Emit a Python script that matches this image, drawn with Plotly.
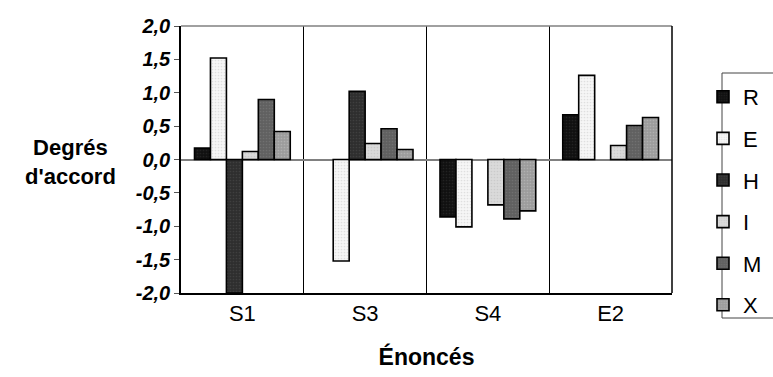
import plotly.graph_objects as go

categories = ["S1", "S3", "S4", "E2"]
series_names = ["R", "E", "H", "I", "M", "X"]
R = [0.17, None, -0.86, 0.67]
E = [1.52, -1.52, -1.01, 1.26]
H = [-2.0, 1.02, None, None]
I = [0.12, 0.24, -0.68, 0.21]
M = [0.90, 0.46, -0.89, 0.51]
X = [0.42, 0.15, -0.77, 0.63]
series_values = [R, E, H, I, M, X]
y_ticks = [2.0, 1.5, 1.0, 0.5, 0.0, -0.5, -1.0, -1.5, -2.0]
y_tick_labels = ["2,0", "1,5", "1,0", "0,5", "0,0", "-0,5", "-1,0", "-1,5", "-2,0"]

fills = ["#101010", "#f6f6f6", "#2e2e2e", "#dadada", "#606060", "#9c9c9c"]
dots = ["#333333", "#c8c8c8", "#505050", "#bcbcbc", "#808080", "#c4c4c4"]

FONT = "Liberation Sans, Arial, sans-serif"

W, H_ = 773, 377
L, Rm, T, B = 181, 101, 26, 84
pw, ph = W - L - Rm, H_ - T - B

def px_x(p):
    return (p - L) / pw

def px_y(p):
    return (H_ - B - p) / ph

fig = go.Figure()
for i, (name, vals) in enumerate(zip(series_names, series_values)):
    fig.add_trace(go.Bar(
        name=name, x=categories, y=vals, legendgroup=name,
        marker=dict(color=fills[i], line=dict(color="black", width=1.6),
                    pattern=dict(shape=".", size=3, solidity=0.25, fgcolor=dots[i], fillmode="overlay")),
    ))

fig.update_layout(
    width=W, height=H_,
    margin=dict(l=L, r=Rm, t=T, b=B, autoexpand=False),
    paper_bgcolor="white", plot_bgcolor="white",
    barmode="group", bargap=0.22, bargroupgap=0,
    font=dict(family=FONT, color="black"),
    showlegend=True,
    legend=dict(xref="container", yref="container", x=703 / W, xanchor="left",
                y=1 - 76 / H_, yanchor="top", maxheight=500,
                borderwidth=0, bgcolor="rgba(0,0,0,0)", font=dict(size=22),
                tracegroupgap=10, itemwidth=30),
    xaxis=dict(type="category", tickson="boundaries", showgrid=True, gridcolor="black", gridwidth=1,
               showline=True, linecolor="black", linewidth=1.5, ticks="", tickfont=dict(size=22),
               title=dict(text="<b>Énoncés</b>", font=dict(size=23), standoff=24)),
    yaxis=dict(range=[-2.0, 2.0], tickvals=y_ticks, ticktext=y_tick_labels, showgrid=False,
               showline=True, linecolor="black", linewidth=1.5, mirror=False,
               ticks="outside", ticklen=5, tickcolor="#555555",
               tickfont=dict(size=20, weight="bold", style="italic"),
               zeroline=True, zerolinecolor="#808080", zerolinewidth=2),
    annotations=[dict(text="<b>Degrés<br>d'accord</b>", xref="paper", yref="paper",
                      x=px_x(70), y=px_y(162), xanchor="center", yanchor="middle",
                      showarrow=False, font=dict(size=22))],
    shapes=[dict(type="line", xref="paper", yref="paper", x0=0, x1=1, y0=1, y1=1,
                 line=dict(color="#808080", width=1.5)),
            dict(type="line", xref="paper", yref="paper", x0=1, x1=1, y0=0, y1=1,
                 line=dict(color="black", width=1.5)),
            dict(type="rect", xref="paper", yref="paper", x0=px_x(722), x1=px_x(790),
                 y0=px_y(318), y1=px_y(73), line=dict(color="#444444", width=1))],
)

fig.write_html("out.html")
